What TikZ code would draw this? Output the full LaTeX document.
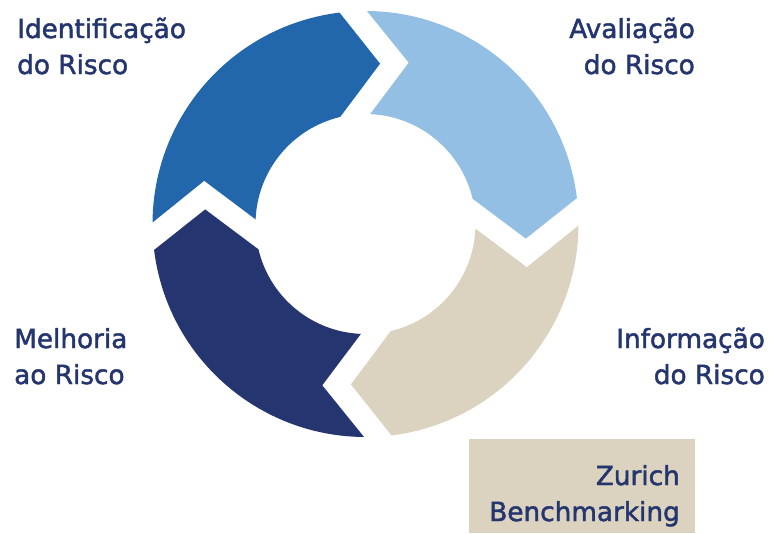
\documentclass[tikz,border=0pt]{standalone}
\usepackage{fontspec}
\setmainfont{DejaVu Sans}[FakeBold=1.8]
\definecolor{segblue}{HTML}{2267AB}
\definecolor{seglight}{HTML}{92BFE3}
\definecolor{segbeige}{HTML}{DBD3BF}
\definecolor{segnavy}{HTML}{24356F}
\definecolor{txtnavy}{HTML}{25366F}
\newcommand\ringseg[2]{%
  \fill[#2] (#1-0.4:213) arc[start angle=#1-0.4, end angle=#1-83, radius=213]
    -- (#1-95.2:161) -- (#1-76.7:110)
    arc[start angle=#1-76.7, end angle=#1-2.4, radius=110]
    -- (#1-15:167) -- cycle;}
\tikzset{
  lbl/.style={text=txtnavy, font=\fontsize{26.3}{36}\selectfont, inner sep=0pt},
}
\begin{document}
\begin{tikzpicture}[x=1pt,y=1pt]
\useasboundingbox (0,0) rectangle (775,-533);
\begin{scope}[shift={(365.5,-224)}]
  \ringseg{180}{segblue}
  \ringseg{90}{seglight}
  \ringseg{0}{segbeige}
  \ringseg{-90}{segnavy}
\end{scope}
\fill[segbeige] (469,-439) rectangle (695,-533);
\node[lbl, anchor=base west, align=left] (ident) at (17,-74) {Identificação\\do Risco};
\node[lbl, anchor=base east, align=right] (aval) at (695,-74) {Avaliação\\do Risco};
\node[lbl, anchor=base west, align=left] (melh) at (14,-384) {Melhoria\\ao Risco};
\node[lbl, anchor=base east, align=right] (info) at (765,-384) {Informação\\do Risco};
\node[lbl, anchor=base east, align=right] (zur) at (680,-521) {Zurich\\Benchmarking};
\end{tikzpicture}
\end{document}
